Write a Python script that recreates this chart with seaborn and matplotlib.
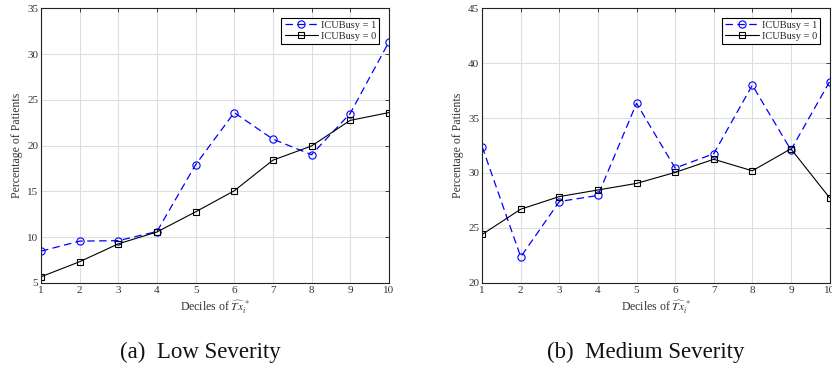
import numpy as np
import pandas as pd
import seaborn as sns
import matplotlib.pyplot as plt

deciles = [1, 2, 3, 4, 5, 6, 7, 8, 9, 10]

low_busy1 = [8.45, 9.55, 9.6, 10.6, 17.9, 23.6, 20.7, 19.0, 23.5, 31.3]
low_busy0 = [5.65, 7.3, 9.25, 10.55, 12.75, 15.05, 18.4, 19.95, 22.75, 23.6]

med_busy1 = [32.4, 22.35, 27.4, 27.95, 36.35, 30.45, 31.75, 38.0, 32.1, 38.3]
med_busy0 = [24.4, 26.7, 27.85, 28.45, 29.05, 30.05, 31.25, 30.2, 32.2, 27.75]

captions = ["(a)  Low Severity", "(b)  Medium Severity"]

sns.set_style("whitegrid")
plt.rcParams['font.family'] = 'serif'
plt.rcParams['font.serif'] = ['Liberation Serif', 'DejaVu Serif']
plt.rcParams['mathtext.fontset'] = 'stix'

fig = plt.figure(figsize=(8.32, 3.79), dpi=100)
ax1 = fig.add_axes([0.0493, 0.254, 0.418, 0.724])
ax2 = fig.add_axes([0.5795, 0.254, 0.4175, 0.724])

def draw_panel(ax, busy1, busy0, ylim, yticks, caption, cap_x):
    sns.lineplot(x=deciles, y=busy1, ax=ax, color='blue', linestyle=(0, (6, 3.5)),
                 linewidth=0.9, marker='o', markersize=5.2, markerfacecolor='none',
                 markeredgecolor='blue', markeredgewidth=0.8, label='ICUBusy = 1')
    sns.lineplot(x=deciles, y=busy0, ax=ax, color='black', linewidth=0.8,
                 marker='s', markersize=4.2, markerfacecolor='none',
                 markeredgecolor='black', markeredgewidth=0.8, label='ICUBusy = 0')
    ax.set_xlim(1, 10)
    ax.set_ylim(*ylim)
    ax.set_xticks(deciles)
    ax.set_yticks(yticks)
    ax.grid(True, color='#dedede', linewidth=0.8)
    for s in ax.spines.values():
        s.set_color('#222222')
        s.set_linewidth(0.8)
    ax.tick_params(direction='in', length=3, width=0.6, labelsize=8,
                   colors='#222222', labelcolor='#333333', top=True, right=True,
                   pad=2)
    ax.set_xlabel(r'Deciles of $\widehat{Tx}_i^*$', fontsize=8.5, color='#333333',
                  labelpad=3)
    ax.set_ylabel('Percentage of Patients', fontsize=8.5, color='#333333',
                  labelpad=3)
    leg = ax.legend(loc='upper right', fontsize=7.5, frameon=True, fancybox=False,
                    edgecolor='black', framealpha=1, handlelength=3.2,
                    borderpad=0.3, labelspacing=0.15, handletextpad=0.3,
                    borderaxespad=0.9)
    leg.get_frame().set_linewidth(0.8)
    fig.text(cap_x, 1 - 352 / 379, caption, ha='center', va='center',
             fontsize=16.5, color='#111111')
    return ax

draw_panel(ax1, low_busy1, low_busy0, (5, 35), [5, 10, 15, 20, 25, 30, 35],
           captions[0], 200 / 832)
draw_panel(ax2, med_busy1, med_busy0, (20, 45), [20, 25, 30, 35, 40, 45],
           captions[1], 646 / 832)

fig.savefig('out.png', dpi=100)
